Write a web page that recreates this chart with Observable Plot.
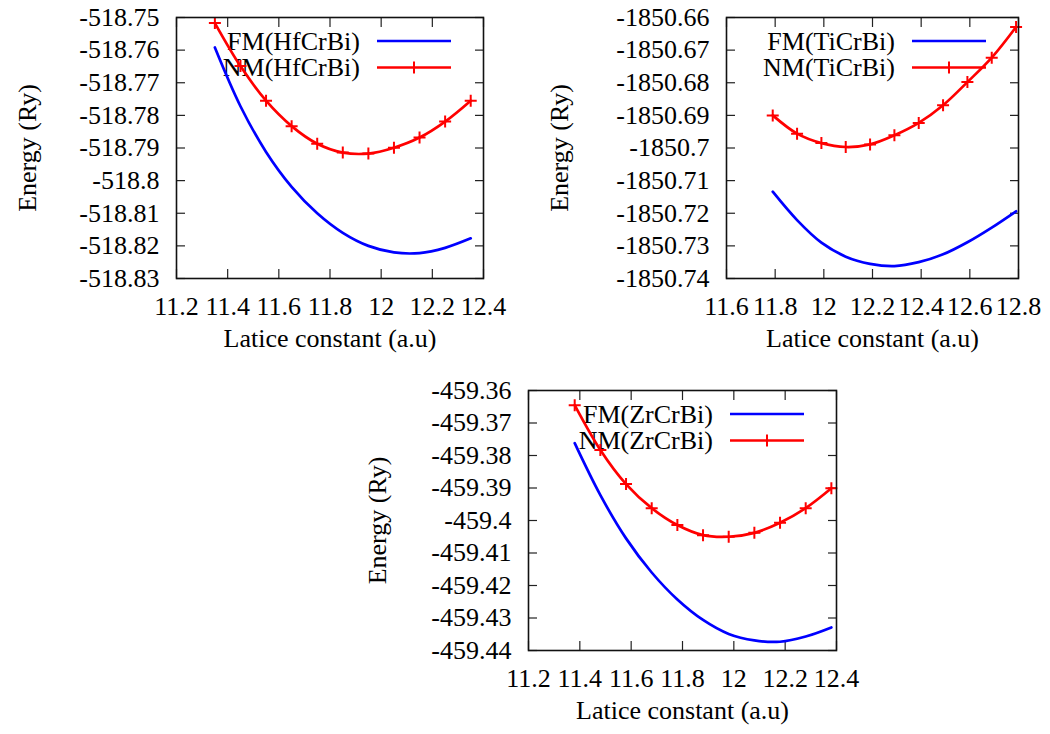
<!DOCTYPE html>
<html><head><meta charset="utf-8">
<script src="https://cdn.jsdelivr.net/npm/d3@7"></script>
<script src="https://cdn.jsdelivr.net/npm/@observablehq/plot@0.6"></script>
<style>
html,body{margin:0;padding:0;background:#fff;}
#root{position:relative;width:1050px;height:734px;overflow:hidden;background:#fff;}
#root svg{position:absolute;}
</style></head><body><div id="root"></div>
<script>
// ---- data ----
const hfX  = [11.35, 11.45, 11.55, 11.65, 11.75, 11.85, 11.95, 12.05, 12.15, 12.25, 12.35];
const hfFM = [-518.7592, -518.7772, -518.7912, -518.8019, -518.8100, -518.8160, -518.8200, -518.8220, -518.8222, -518.8206, -518.8177];
const hfNM = [-518.7517, -518.7649, -518.7755, -518.7833, -518.7887, -518.7914, -518.7917, -518.7899, -518.7868, -518.7819, -518.7755];

const tiX  = [11.79, 11.89, 11.99, 12.09, 12.19, 12.29, 12.39, 12.49, 12.59, 12.69, 12.79];
const tiFM = [-1850.7134, -1850.7221, -1850.7290, -1850.7333, -1850.7355, -1850.7362, -1850.7350, -1850.7326, -1850.7289, -1850.7244, -1850.7194];
const tiNM = [-1850.6900, -1850.6956, -1850.6985, -1850.6997, -1850.6989, -1850.6961, -1850.6923, -1850.6869, -1850.6798, -1850.6723, -1850.6629];

const zrX  = [11.38, 11.48, 11.58, 11.68, 11.78, 11.88, 11.98, 12.08, 12.18, 12.28, 12.38];
const zrFM = [-459.3762, -459.3922, -459.4055, -459.4160, -459.4243, -459.4306, -459.4349, -459.4369, -459.4373, -459.4357, -459.4329];
const zrNM = [-459.3645, -459.3783, -459.3888, -459.3962, -459.4014, -459.4045, -459.4050, -459.4038, -459.4007, -459.3962, -459.3901];

const xTicksA = [11.2, 11.4, 11.6, 11.8, 12, 12.2, 12.4];
const xTicksB = [11.6, 11.8, 12, 12.2, 12.4, 12.6, 12.8];
const yTicksHf = [-518.75, -518.76, -518.77, -518.78, -518.79, -518.8, -518.81, -518.82, -518.83];
const yTicksTi = [-1850.66, -1850.67, -1850.68, -1850.69, -1850.7, -1850.71, -1850.72, -1850.73, -1850.74];
const yTicksZr = [-459.36, -459.37, -459.38, -459.39, -459.4, -459.41, -459.42, -459.43, -459.44];

const xTitle = "Latice constant (a.u)";
const yTitle = "Energy (Ry)";
const legendHf = ["FM(HfCrBi)", "NM(HfCrBi)"];
const legendTi = ["FM(TiCrBi)", "NM(TiCrBi)"];
const legendZr = ["FM(ZrCrBi)", "NM(ZrCrBi)"];

// ---- style ----
const FONT = "Liberation Serif";
const BLUE = "#0000ff", RED = "#ff0000";
const plusSymbol = {draw(ctx, size) {
  const r = Math.sqrt(size / Math.PI);
  ctx.moveTo(-r, 0); ctx.lineTo(r, 0);
  ctx.moveTo(0, -r); ctx.lineTo(0, r);
}};

function panel(o) {
  const fmData = o.xs.map((x, i) => ({x, y: o.fm[i]}));
  const nmData = o.xs.map((x, i) => ({x, y: o.nm[i]}));
  const fmt = d => String(d);
  const blank = () => "";
  const tk = {label: null, tickFormat: blank, tickSize: 9, strokeWidth: 1.2, stroke: "#222"};
  const txt = {fontFamily: FONT, fontSize: 26, fontVariant: "normal"};
  const svg = Plot.plot({
    width: o.width, height: o.height,
    marginLeft: o.mL, marginRight: o.mR, marginTop: o.mT, marginBottom: o.mB,
    style: {fontFamily: FONT, fontSize: "26px", color: "#000", background: "transparent", overflow: "visible"},
    x: {domain: o.xDomain},
    y: {domain: o.yDomain},
    marks: [
      Plot.axisX(o.xTicks, {...txt, anchor: "bottom", label: null, tickSize: 0, tickPadding: 18, tickFormat: fmt}),
      Plot.axisY(o.yTicks, {...txt, anchor: "left", label: null, tickSize: 0, tickPadding: 17, tickFormat: fmt}),
      Plot.axisX(o.xTicks, {...tk, anchor: "bottom", dy: -9}),
      Plot.axisX(o.xTicks, {...tk, anchor: "top", dy: 9}),
      Plot.axisY(o.yTicks, {...tk, anchor: "left", dx: 9}),
      Plot.axisY(o.yTicks, {...tk, anchor: "right", dx: -9}),
      Plot.text([xTitle], {...txt, frameAnchor: "bottom", dy: 68, fill: "#000"}),
      Plot.text([yTitle], {...txt, frameAnchor: "left", textAnchor: "middle", rotate: -90, dx: o.yTitleDx, fill: "#000"}),
      Plot.line(fmData, {x: "x", y: "y", stroke: BLUE, strokeWidth: 2.7, curve: "catmull-rom"}),
      Plot.line(nmData, {x: "x", y: "y", stroke: RED, strokeWidth: 2.7, curve: "catmull-rom"}),
      Plot.dot(nmData, {x: "x", y: "y", symbol: plusSymbol, r: 6, fill: "none", stroke: RED, strokeWidth: 2}),
      Plot.frame({stroke: "#111", strokeWidth: 1.6})
    ]
  });
  svg.style.left = o.left + "px";
  svg.style.top = o.top + "px";
  // legend (gnuplot style key, drawn beneath the curves)
  const R = o.width - o.mR, T = o.mT;
  const g = d3.select(svg).insert("g", "g[aria-label='line']")
    .attr("font-family", FONT).attr("font-size", 26).attr("fill", "#000");
  const rows = [{label: o.legend[0], color: BLUE, y: T + 24, mark: false},
                {label: o.legend[1], color: RED, y: T + 50.5, mark: true}];
  for (const r of rows) {
    g.append("text").attr("x", R - 123).attr("y", r.y).attr("dy", "0.33em")
      .attr("text-anchor", "end").text(r.label);
    g.append("line").attr("x1", R - 106).attr("x2", R - 32).attr("y1", r.y).attr("y2", r.y)
      .attr("stroke", r.color).attr("stroke-width", 2.7);
    if (r.mark) {
      g.append("line").attr("x1", R - 69).attr("x2", R - 69).attr("y1", r.y - 6).attr("y2", r.y + 6)
        .attr("stroke", r.color).attr("stroke-width", 2);
    }
  }
  document.getElementById("root").appendChild(svg);
  return svg;
}

panel({left: 0, top: 0, width: 525, height: 372, mL: 176, mR: 42, mT: 17, mB: 94,
  xDomain: [11.2, 12.4], yDomain: [-518.83, -518.75], xTicks: xTicksA, yTicks: yTicksHf,
  xs: hfX, fm: hfFM, nm: hfNM, legend: legendHf, yTitleDx: -149});
panel({left: 525, top: 0, width: 525, height: 372, mL: 201, mR: 32, mT: 17, mB: 94,
  xDomain: [11.6, 12.8], yDomain: [-1850.74, -1850.66], xTicks: xTicksB, yTicks: yTicksTi,
  xs: tiX, fm: tiFM, nm: tiNM, legend: legendTi, yTitleDx: -167});
panel({left: 330, top: 372, width: 540, height: 362, mL: 198, mR: 34, mT: 18, mB: 84,
  xDomain: [11.2, 12.4], yDomain: [-459.44, -459.36], xTicks: xTicksA, yTicks: yTicksZr,
  xs: zrX, fm: zrFM, nm: zrNM, legend: legendZr, yTitleDx: -151});
</script></body></html>
